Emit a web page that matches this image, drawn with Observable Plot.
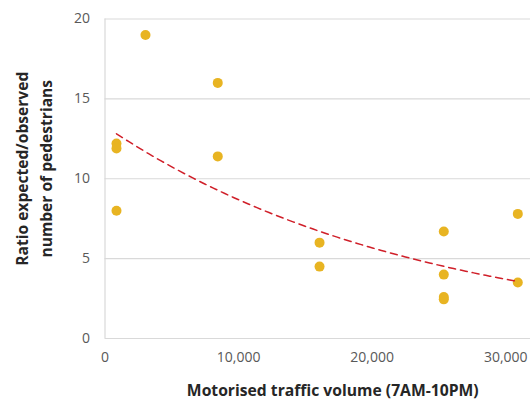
<!DOCTYPE html>
<html>
<head>
<meta charset="utf-8">
<script src="https://cdn.jsdelivr.net/npm/d3@7"></script>
<script src="https://cdn.jsdelivr.net/npm/@observablehq/plot@0.6"></script>
<style>
  html, body { margin: 0; padding: 0; background: #fff; }
  #chart svg { display: block; }
</style>
</head>
<body>
<div id="chart"></div>
<script>
// Data
const trafficVolume = [860, 860, 860, 3030, 8440, 8440, 16060, 16060, 25360, 25360, 25360, 25360, 30900, 30900];
const ratio = [12.2, 11.9, 8.0, 19.0, 16.0, 11.4, 6.0, 4.5, 6.7, 4.0, 2.6, 2.45, 7.8, 3.5];
const xTicks = [0, 10000, 20000, 30000];
const yTicks = [0, 5, 10, 15, 20];
const xTitle = "Motorised traffic volume (7AM-10PM)";
const yTitle = "Ratio expected/observed\nnumber of pedestrians";

const points = trafficVolume.map((x, i) => ({x, y: ratio[i]}));

// Exponential trendline (least squares on ln y), as in a spreadsheet trendline
const mx = d3.mean(points, d => d.x);
const my = d3.mean(points, d => Math.log(d.y));
const b = d3.sum(points, d => (d.x - mx) * (Math.log(d.y) - my)) / d3.sum(points, d => (d.x - mx) ** 2);
const a = Math.exp(my - b * mx);
const [x0, x1] = d3.extent(trafficVolume);
const trend = d3.range(0, 101).map(i => {
  const x = x0 + (x1 - x0) * i / 100;
  return {x, y: a * Math.exp(b * x)};
});

const font = "'Open Sans', sans-serif";

const chart = Plot.plot({
  width: 530,
  height: 403,
  marginLeft: 104.5,
  marginRight: 0,
  marginTop: 18.5,
  marginBottom: 65,
  style: {fontFamily: font, fontSize: "14px", color: "#595959", background: "#fff"},
  x: {domain: [0, 31850], ticks: xTicks},
  y: {domain: [0, 20], ticks: yTicks},
  marks: [
    Plot.gridY(yTicks, {stroke: "#d9d9d9", strokeOpacity: 1, strokeWidth: 1.2}),
    Plot.ruleX([0], {stroke: "#d9d9d9", strokeWidth: 1.2}),
    Plot.axisX(xTicks, {tickSize: 0, tickPadding: 14, tickFormat: d3.format(","), label: null, fill: "#595959", fontSize: 14}),
    Plot.axisY(yTicks, {tickSize: 0, tickPadding: 15, label: null, fill: "#595959", fontSize: 14}),
    Plot.dot(points, {x: "x", y: "y", r: 5, fill: "#E8B422", stroke: null}),
    Plot.line(trend, {x: "x", y: "y", stroke: "#D0202A", strokeWidth: 1.5, strokeDasharray: "7,5"}),
    Plot.text([yTitle], {frameAnchor: "left", rotate: -90, dx: -73, dy: -10, text: d => d, fontWeight: "bold", fontSize: 15.6, fill: "#262626", lineHeight: 1.54, textAnchor: "middle", lineAnchor: "middle"}),
    Plot.text([xTitle], {frameAnchor: "bottom", dy: 52, dx: 15, text: d => d, fontWeight: "bold", fontSize: 15.7, fill: "#262626", textAnchor: "middle", lineAnchor: "middle"})
  ]
});
document.getElementById("chart").appendChild(chart);
</script>
</body>
</html>
